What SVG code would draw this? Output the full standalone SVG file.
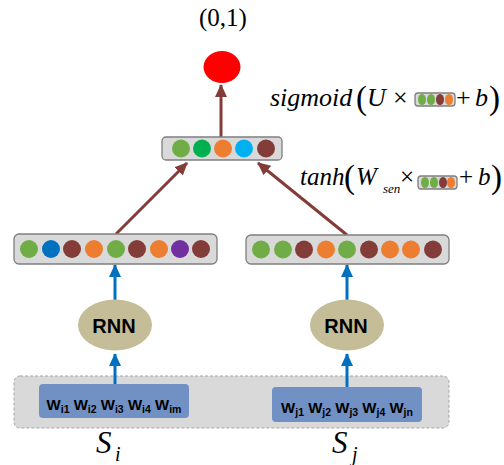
<svg xmlns="http://www.w3.org/2000/svg" width="504" height="465" viewBox="0 0 504 465">
<style>
.vec{fill:#D9D9D9;stroke:#7F7F7F;stroke-width:1.3}
.g{fill:#70AD47}.dg{fill:#00B050}.o{fill:#ED7D31}.c{fill:#00B0F0}.br{fill:#843C38}.bl{fill:#0070C0}.p{fill:#7030A0}
.rnn{fill:#C4BD97}
.rnnt{font-family:"Liberation Sans",Arial,sans-serif;font-weight:bold;font-size:20px;fill:#000;text-anchor:middle}
.word{fill:#7190C4}
.wt{font-family:"Liberation Sans",Arial,sans-serif;font-weight:bold;font-size:15px;fill:#000}
.sub{font-size:10.5px}
.m{font-family:"Liberation Serif","Times New Roman",serif;fill:#000}
.it{font-style:italic}
.brc{stroke:#843C38;stroke-width:3;fill:none}
.blc{stroke:#0070C0;stroke-width:3;fill:none}
</style>
<defs>
<marker id="ab" markerUnits="userSpaceOnUse" markerWidth="14" markerHeight="14" viewBox="0 0 14 14" refX="12" refY="7" orient="auto"><path d="M0,1 L13,7 L0,13 Z" fill="#843C38"/></marker>
<marker id="ablue" markerUnits="userSpaceOnUse" markerWidth="14" markerHeight="14" viewBox="0 0 14 14" refX="12" refY="7" orient="auto"><path d="M0,1 L13,7 L0,13 Z" fill="#0070C0"/></marker>
</defs>

<g id="container">
<rect x="14" y="376" width="435" height="52" rx="6" fill="#D9D9D9" stroke="#A6A6A6" stroke-width="1" stroke-dasharray="3,2"/>
</g>

<g id="connectors">
<line class="brc" x1="221" y1="137" x2="221" y2="85" marker-end="url(#ab)"/>
<line class="brc" x1="116" y1="234" x2="187" y2="163" marker-end="url(#ab)"/>
<line class="brc" x1="347" y1="235" x2="258" y2="163" marker-end="url(#ab)"/>
<line class="blc" x1="115" y1="300" x2="115" y2="265" marker-end="url(#ablue)"/>
<line class="blc" x1="347" y1="300" x2="347" y2="265" marker-end="url(#ablue)"/>
<line class="blc" x1="115" y1="384" x2="115" y2="354" marker-end="url(#ablue)"/>
<line class="blc" x1="347" y1="387" x2="347" y2="354" marker-end="url(#ablue)"/>
</g>

<g id="output">
<text class="m" x="223" y="26" font-size="25" text-anchor="middle">(0,1)</text>
<ellipse cx="222" cy="67" rx="18.5" ry="16" fill="#FF0000"/>
</g>

<g id="top-vector">
<rect class="vec" x="162" y="137" width="120" height="23" rx="4"/>
<circle class="g" cx="181" cy="148.5" r="9"/>
<circle class="dg" cx="202" cy="148.5" r="9"/>
<circle class="o" cx="223" cy="148.5" r="9"/>
<circle class="c" cx="244" cy="148.5" r="9"/>
<circle class="br" cx="266" cy="148.5" r="9"/>
</g>

<g id="sigmoid-formula">
<text class="m it" x="270" y="106" font-size="26">sigmoid</text>
<text class="m" x="356" y="109" font-size="33">(</text>
<text class="m it" x="367" y="106" font-size="26">U</text>
<text class="m" x="393" y="106" font-size="26">×</text>
<rect class="vec" x="415" y="93" width="40" height="13" rx="3"/>
<ellipse class="g" cx="422" cy="99.5" rx="4" ry="5.5"/>
<ellipse class="g" cx="431" cy="99.5" rx="4" ry="5.5"/>
<ellipse class="br" cx="440" cy="99.5" rx="4" ry="5.5"/>
<ellipse class="o" cx="449" cy="99.5" rx="4" ry="5.5"/>
<text class="m" x="456" y="106" font-size="26">+</text>
<text class="m it" x="475" y="106" font-size="26">b</text>
<text class="m" x="489" y="109" font-size="33">)</text>
</g>

<g id="tanh-formula">
<text class="m it" x="300" y="185" font-size="25">tanh</text>
<text class="m" x="344" y="188" font-size="33">(</text>
<text class="m it" x="356" y="185" font-size="25">W</text>
<text class="m it" x="383" y="193" font-size="13">sen</text>
<text class="m" x="400" y="185" font-size="25">×</text>
<rect class="vec" x="418" y="176" width="39" height="13" rx="3"/>
<ellipse class="g" cx="425" cy="182.5" rx="4" ry="5.5"/>
<ellipse class="g" cx="434" cy="182.5" rx="4" ry="5.5"/>
<ellipse class="br" cx="443" cy="182.5" rx="4" ry="5.5"/>
<ellipse class="o" cx="451" cy="182.5" rx="4" ry="5.5"/>
<text class="m" x="459" y="185" font-size="25">+</text>
<text class="m it" x="478" y="185" font-size="25">b</text>
<text class="m" x="491" y="188" font-size="33">)</text>
</g>

<g id="left-vector">
<rect class="vec" x="14" y="234" width="203" height="30" rx="5"/>
<circle class="g" cx="29" cy="249" r="9"/>
<circle class="bl" cx="51" cy="249" r="9"/>
<circle class="br" cx="72" cy="249" r="9"/>
<circle class="o" cx="94" cy="249" r="9"/>
<circle class="g" cx="116" cy="249" r="9"/>
<circle class="br" cx="137" cy="249" r="9"/>
<circle class="o" cx="159" cy="249" r="9"/>
<circle class="p" cx="180" cy="249" r="9"/>
<circle class="br" cx="201" cy="249" r="9"/>
</g>

<g id="right-vector">
<rect class="vec" x="246" y="235" width="203" height="29" rx="5"/>
<circle class="g" cx="261" cy="249.5" r="9"/>
<circle class="g" cx="283" cy="249.5" r="9"/>
<circle class="br" cx="304" cy="249.5" r="9"/>
<circle class="o" cx="326" cy="249.5" r="9"/>
<circle class="g" cx="347" cy="249.5" r="9"/>
<circle class="br" cx="369" cy="249.5" r="9"/>
<circle class="o" cx="390" cy="249.5" r="9"/>
<circle class="o" cx="411" cy="249.5" r="9"/>
<circle class="br" cx="433" cy="249.5" r="9"/>
</g>

<g id="rnn-left">
<ellipse class="rnn" cx="115" cy="325" rx="37" ry="25.5"/>
<text class="rnnt" x="114" y="333">RNN</text>
</g>
<g id="rnn-right">
<ellipse class="rnn" cx="347" cy="325" rx="37" ry="25.5"/>
<text class="rnnt" x="346" y="333">RNN</text>
</g>

<g id="words-left">
<rect class="word" x="39" y="384" width="150" height="34" rx="4"/>
<text class="wt" x="114" y="410" text-anchor="middle">W<tspan class="sub" dy="3">i1</tspan><tspan dy="-3"> W</tspan><tspan class="sub" dy="3">i2</tspan><tspan dy="-3"> W</tspan><tspan class="sub" dy="3">i3</tspan><tspan dy="-3"> W</tspan><tspan class="sub" dy="3">i4</tspan><tspan dy="-3"> W</tspan><tspan class="sub" dy="3">im</tspan></text>
</g>
<g id="words-right">
<rect class="word" x="272" y="387" width="150" height="35" rx="4"/>
<text class="wt" x="347" y="413" text-anchor="middle">W<tspan class="sub" dy="3">j1</tspan><tspan dy="-3"> W</tspan><tspan class="sub" dy="3">j2</tspan><tspan dy="-3"> W</tspan><tspan class="sub" dy="3">j3</tspan><tspan dy="-3"> W</tspan><tspan class="sub" dy="3">j4</tspan><tspan dy="-3"> W</tspan><tspan class="sub" dy="3">jn</tspan></text>
</g>

<g id="label-si">
<text class="m it" x="96" y="453" font-size="31">S</text>
<text class="m it" x="115" y="461" font-size="20">i</text>
</g>
<g id="label-sj">
<text class="m it" x="332" y="453" font-size="31">S</text>
<text class="m it" x="352" y="461" font-size="20">j</text>
</g>
</svg>
